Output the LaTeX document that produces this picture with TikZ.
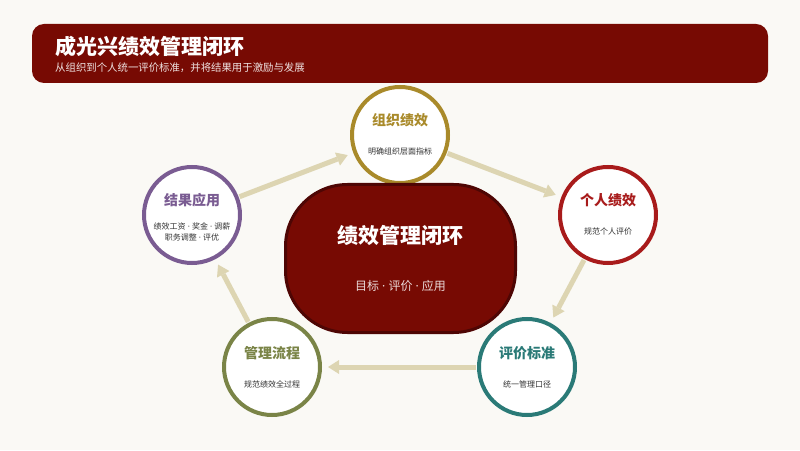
\documentclass[tikz,border=0pt]{standalone}
\usepackage{fontspec}
\setmainfont{Noto Sans CJK SC}
\newfontfamily\latinfont{Noto Sans}
\usepackage{xcolor}
\usetikzlibrary{arrows.meta}

\definecolor{bgpaper}{HTML}{FAF9F5}
\definecolor{darkred}{HTML}{770A03}
\definecolor{rimred}{HTML}{4E0604}
\definecolor{flowtan}{HTML}{DDD5B2}
\definecolor{cgold}{HTML}{A98A2A}
\definecolor{cred}{HTML}{A81B1B}
\definecolor{cteal}{HTML}{2A7A77}
\definecolor{colive}{HTML}{7A8447}
\definecolor{cpurple}{HTML}{7A5C92}
\definecolor{subgray}{HTML}{333333}

\newcommand{\sep}{{\latinfont\ ·\ }}

\begin{document}
\begin{tikzpicture}[x=1pt,y=1pt,
	ring/.style={shape=circle,draw=#1,line width=4pt,fill=white,minimum size=96pt,inner sep=0pt},
	ttl/.style={font=\fontsize{14}{16}\selectfont\bfseries,text=#1},
	sub/.style={font=\fontsize{8}{11.5}\selectfont,text=subgray,align=center},
	flow/.style={color=flowtan,line width=5pt,-{Triangle[width=14pt,length=11pt,line width=0pt]},shorten >=6pt,shorten <=1pt}]
			\fill[bgpaper] (0,0) rectangle (800,450);
			\useasboundingbox (0,0) rectangle (800,450);
			
			% header
			\fill[darkred,rounded corners=12pt] (32,426) rectangle (768,367);
			\node[anchor=west,text=white,font=\fontsize{21}{23}\selectfont\bfseries,inner sep=0pt] (title) at (55,403) {成光兴绩效管理闭环};
			\node[anchor=west,text=white!88!darkred,font=\fontsize{10.4}{12}\selectfont,inner sep=0pt] (subtitle) at (55,382) {从组织到个人统一评价标准，并将结果用于激励与发展};
			
			% stages
			\node[ring=cgold] (org) at (400,315) {};
			\node[ring=cred] (ind) at (608,235) {};
			\node[ring=cteal] (std) at (527,83) {};
			\node[ring=colive] (proc) at (272,83) {};
			\node[ring=cpurple] (res) at (192,235) {};
			
			% core
			\node[shape=rectangle,rounded corners=62pt,draw=rimred,line width=3pt,fill=darkred,minimum width=230pt,minimum height=148pt] (core) at (400.5,191.5) {};
			\node[text=white,font=\fontsize{21}{24}\selectfont\bfseries] (core-t) at ([yshift=23pt]core.center) {绩效管理闭环};
			\node[text=white!85!darkred,font=\fontsize{12}{14}\selectfont] (core-s) at ([yshift=-27pt]core.center) {目标\sep 评价\sep 应用};
			
			\node[ttl=cgold] (org-t) at ([yshift=15pt]org.center) {组织绩效};
			\node[sub] (org-s) at ([yshift=-16pt]org.center) {明确组织层面指标};
			\node[ttl=cred] (ind-t) at ([yshift=15pt]ind.center) {个人绩效};
			\node[sub] (ind-s) at ([yshift=-16pt]ind.center) {规范个人评价};
			\node[ttl=cteal] (std-t) at ([yshift=14pt]std.center) {评价标准};
			\node[sub] (std-s) at ([yshift=-17pt]std.center) {统一管理口径};
			\node[ttl=colive] (proc-t) at ([yshift=14pt]proc.center) {管理流程};
			\node[sub] (proc-s) at ([yshift=-17pt]proc.center) {规范绩效全过程};
			\node[ttl=cpurple] (res-t) at ([yshift=15pt]res.center) {结果应用};
			\node[sub] (res-s) at ([yshift=-17pt]res.center) {绩效工资\sep 奖金\sep 调薪\\职务调整\sep 评优};
			
			% loop
			\path[flow] (res) edge (org);
			\path[flow] (org) edge (ind);
			\path[flow] (ind) edge (std);
			\path[flow] (std) edge (proc);
			\path[flow] (proc) edge (res);
\end{tikzpicture}
\end{document}
